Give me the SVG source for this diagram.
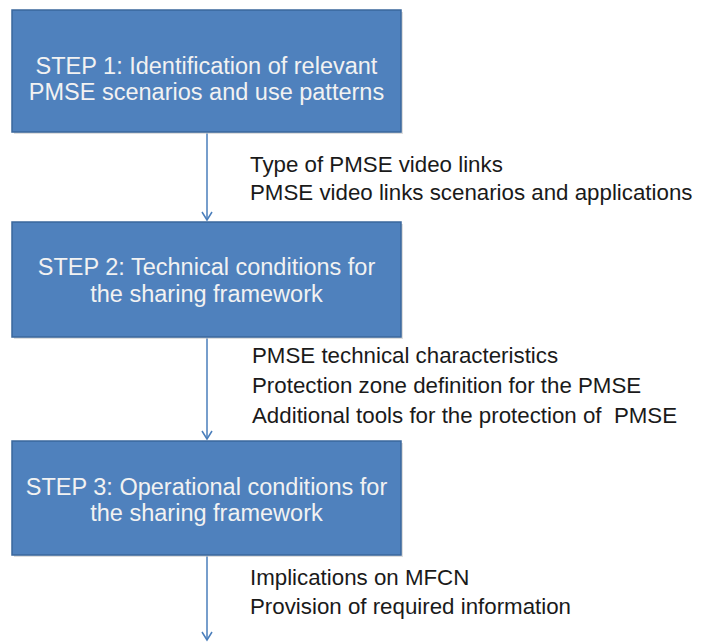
<svg xmlns="http://www.w3.org/2000/svg" width="711" height="642" viewBox="0 0 711 642">
<defs>
<style>
.box{fill:#4F81BD;stroke:#3A679C;stroke-width:1.5}
.shadow{fill:#c8c8c8;opacity:0.6}
.bt{font-family:"Liberation Sans",Arial,sans-serif;font-size:23.5px;fill:#F2F2F2;text-anchor:middle}
.lt{font-family:"Liberation Sans",Arial,sans-serif;font-size:22.3px;fill:#1a1a1a}
.conn{stroke:#4A7EBB;stroke-width:1.5;fill:none}
</style>
<marker id="arr" markerWidth="12" markerHeight="12" refX="10" refY="6" orient="auto" markerUnits="userSpaceOnUse">
<path d="M2,1 L10,6 L2,11" fill="none" stroke="#4A7EBB" stroke-width="1.5"/>
</marker>
</defs>
<rect width="711" height="642" fill="#ffffff"/>
<g id="connectors">
<line class="conn" x1="207" y1="133" x2="207" y2="220" marker-end="url(#arr)"/>
<line class="conn" x1="207" y1="338" x2="207" y2="439" marker-end="url(#arr)"/>
<line class="conn" x1="207" y1="556" x2="207" y2="640" marker-end="url(#arr)"/>
</g>
<g id="step1">
<rect class="shadow" x="14" y="12" width="389" height="122"/>
<rect class="box" x="12" y="10" width="389" height="122"/>
<text class="bt" x="206.5" y="74">STEP 1: Identification of relevant</text>
<text class="bt" x="206.5" y="100">PMSE scenarios and use patterns</text>
</g>
<g id="step2">
<rect class="shadow" x="14" y="224" width="389" height="115"/>
<rect class="box" x="12" y="222" width="389" height="115"/>
<text class="bt" x="206.5" y="275">STEP 2: Technical conditions for</text>
<text class="bt" x="206.5" y="302">the sharing framework</text>
</g>
<g id="step3">
<rect class="shadow" x="14" y="443" width="389" height="114"/>
<rect class="box" x="12" y="441" width="389" height="114"/>
<text class="bt" x="206.5" y="495">STEP 3: Operational conditions for</text>
<text class="bt" x="206.5" y="521">the sharing framework</text>
</g>
<g id="label1">
<text class="lt" x="250" y="172">Type of PMSE video links</text>
<text class="lt" x="250" y="200">PMSE video links scenarios and applications</text>
</g>
<g id="label2">
<text class="lt" x="252" y="363">PMSE technical characteristics</text>
<text class="lt" x="252" y="393">Protection zone definition for the PMSE</text>
<text class="lt" x="252" y="423" xml:space="preserve">Additional tools for the protection of  PMSE</text>
</g>
<g id="label3">
<text class="lt" x="250" y="585">Implications on MFCN</text>
<text class="lt" x="250" y="614">Provision of required information</text>
</g>
</svg>
